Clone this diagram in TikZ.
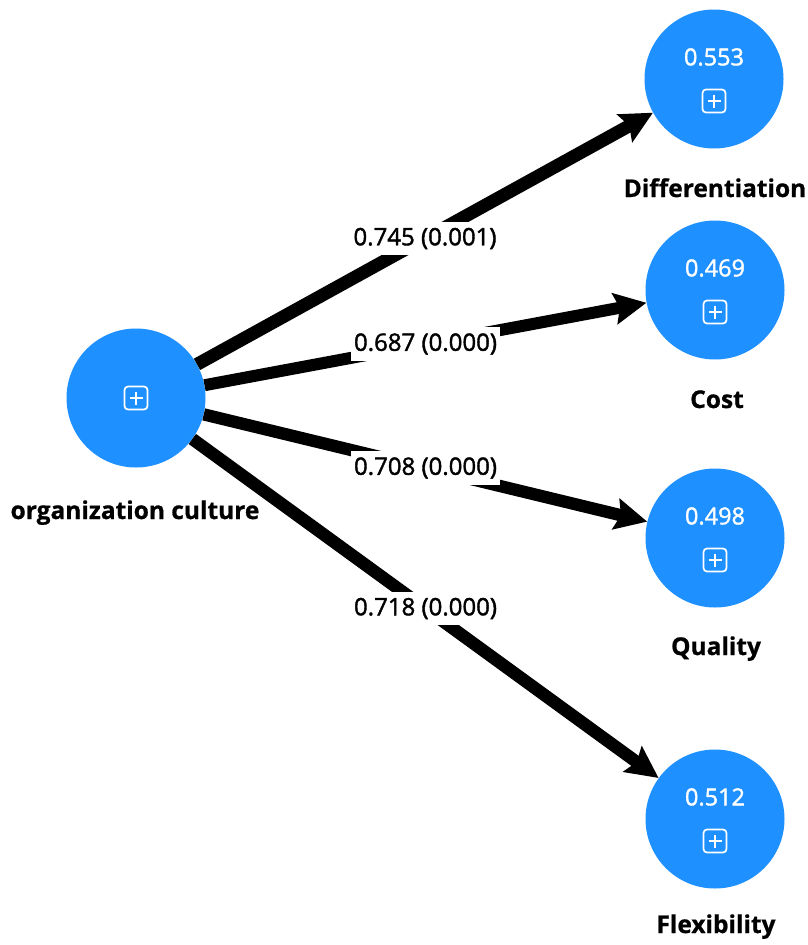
\documentclass[tikz,border=0pt]{standalone}
\usepackage{fontspec}
\setmainfont{Open Sans}[BoldFeatures={FakeBold=0.8}]
\newfontfamily\medfont[FakeBold=1.6]{Open Sans}
\usetikzlibrary{arrows.meta}
\definecolor{plsblue}{RGB}{30,144,255}
\tikzset{
  construct/.style={circle, fill=plsblue, minimum size=139pt, inner sep=0pt},
  cname/.style={font=\bfseries\fontsize{24.5}{24.5}\selectfont, anchor=base, text=black},
  rsq/.style={font=\medfont\fontsize{23.5}{23.5}\selectfont, text=white, inner sep=0pt},
  plusbox/.style={rectangle, draw=white, line width=1.7pt, rounded corners=3.5pt,
    minimum size=23pt, inner sep=0pt,
    path picture={
      \draw[white, line width=1.7pt]
        ([yshift=-5pt]path picture bounding box.north) -- ([yshift=5pt]path picture bounding box.south)
        ([xshift=5pt]path picture bounding box.west) -- ([xshift=-5pt]path picture bounding box.east);
    }},
  coef/.style={fill=white, font=\medfont\fontsize{24}{24}\selectfont, text=black,
    inner xsep=3pt, inner ysep=6pt},
  link/.style={draw=black, line width=#1, -{Stealth[length=32pt, width=31pt, inset=5pt]}},
}
\begin{document}
\begin{tikzpicture}[x=1pt, y=-1pt]
  \useasboundingbox (0,0) rectangle (808,945);

  % constructs
  \node[construct] (oc)   at (136,398) {};
  \node[construct] (diff) at (714,79)  {};
  \node[construct] (cost) at (715,290) {};
  \node[construct] (qual) at (715,538) {};
  \node[construct] (flex) at (715,819) {};

  % expand markers
  \node[plusbox] (ocp)   at (136,398) {};
  \node[plusbox] (diffp) at (714,101) {};
  \node[plusbox] (costp) at (715,312) {};
  \node[plusbox] (qualp) at (715,560) {};
  \node[plusbox] (flexp) at (715,841) {};

  % R-squared values
  \node[rsq] (diffv) at (714,57)  {0.553};
  \node[rsq] (costv) at (715,268) {0.469};
  \node[rsq] (qualv) at (715,516) {0.498};
  \node[rsq] (flexv) at (715,797) {0.512};

  % construct names
  \node[cname] (ocl)   at (135,519) {organization culture};
  \node[cname] (diffl) at (715,197) {Differentiation};
  \node[cname] (costl) at (717,408) {Cost};
  \node[cname] (quall) at (716,655) {Quality};
  \node[cname] (flexl) at (716,933) {Flexibility};

  % path coefficients
  \path[link=13pt]   (oc) -- node[coef] (c1) {0.745 (0.001)} (diff);
  \path[link=12pt]   (oc) -- node[coef] (c2) {0.687 (0.000)} (cost);
  \path[link=12.3pt] (oc) -- node[coef] (c3) {0.708 (0.000)} (qual);
  \path[link=12.5pt] (oc) -- node[coef] (c4) {0.718 (0.000)} (flex);
\end{tikzpicture}
\end{document}
